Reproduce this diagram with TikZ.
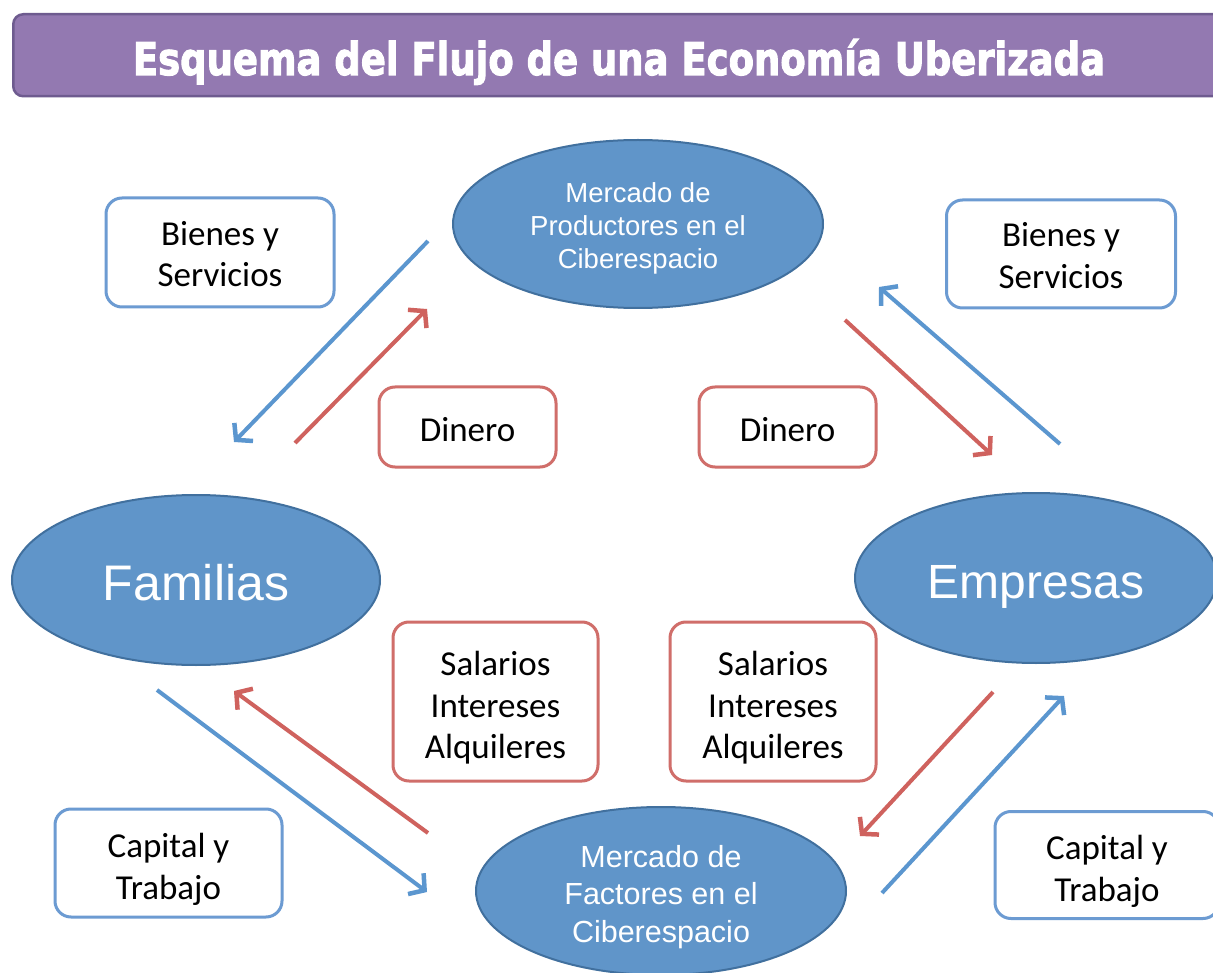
\documentclass[tikz,border=0pt]{standalone}
\usepackage{fontspec}
\setmainfont{Liberation Sans}
\newfontfamily\boxfont{Carlito}
\newfontfamily\titlefont{DejaVu Sans}[BoldFeatures={FakeBold=2.5}]
\usetikzlibrary{shapes.geometric,arrows.meta}
\definecolor{ellfill}{HTML}{6095C9}
\definecolor{elldraw}{HTML}{41709E}
\definecolor{arrblue}{HTML}{5B96CF}
\definecolor{arrred}{HTML}{CF625E}
\definecolor{boxblue}{HTML}{6C9BD2}
\definecolor{boxred}{HTML}{D06E6A}
\definecolor{titlefill}{HTML}{9379B1}
\definecolor{titledraw}{HTML}{6E5B8F}
\tikzset{
  ell/.style={ellipse, fill=ellfill, draw=elldraw, line width=2pt, inner sep=0pt, text=white, align=center, text depth=0pt},
  infobox/.style={rectangle, rounded corners=16pt, fill=white, line width=3pt, inner sep=0pt, align=center,
    text depth=0pt, font=\boxfont\fontsize{35}{41.5}\selectfont},
  bluebox/.style={infobox, draw=boxblue},
  redbox/.style={infobox, draw=boxred},
  flow/.style={line width=4pt, -{Straight Barb[length=11pt,width=26pt,line width=4.5pt]}},
  blueflow/.style={flow, draw=arrblue},
  redflow/.style={flow, draw=arrred},
}
\begin{document}
\begin{tikzpicture}[x=1pt,y=-1pt]
\useasboundingbox (0,0) rectangle (1213,973);
\clip (0,0) rectangle (1213,973);
\fill[white] (0,0) rectangle (1213,973);
% title
\node[draw=titledraw, fill=titlefill, line width=2.5pt, rounded corners=10pt, minimum width=1240pt, minimum height=82pt, inner sep=0pt, anchor=north west] (titlebar) at (12,13) {};
\node[anchor=base, text=white, inner sep=0pt] (title) at (619,75)
  {\resizebox{972pt}{36pt}{\titlefont\bfseries Esquema del Flujo de una Economía Uberizada}};
% ellipses
\node[ell, minimum width=370pt, minimum height=168pt, text height=89pt, font=\fontsize{27.5}{33}\selectfont] (prod) at (638,224)
  {Mercado de\\Productores en el\\Ciberespacio};
\node[ell, minimum width=368pt, minimum height=170pt, text height=40pt, font=\fontsize{50}{56}\selectfont] (fam) at (196,580) {Familias};
\node[ell, minimum width=362pt, minimum height=170pt, text height=40pt, font=\fontsize{48}{56}\selectfont] (emp) at (1036,578) {Empresas};
\node[ell, minimum width=370pt, minimum height=168pt, text height=102pt, font=\fontsize{30.5}{37.5}\selectfont] (fact) at (661,891)
  {Mercado de\\Factores en el\\Ciberespacio};
% boxes
\node[bluebox, minimum width=228pt, minimum height=109pt, text height=69pt] (bs1) at (220,252.5) {Bienes y\\Servicios};
\node[bluebox, minimum width=229pt, minimum height=108pt, text height=69pt] (bs2) at (1061,254) {Bienes y\\Servicios};
\node[redbox, minimum width=177pt, minimum height=80pt, text height=30pt] (din1) at (467.5,427) {Dinero};
\node[redbox, minimum width=177pt, minimum height=80pt, text height=30pt] (din2) at (787.5,427) {Dinero};
\node[redbox, minimum width=205pt, minimum height=159pt, text height=114pt] (sal1) at (495.5,701.5) {Salarios\\Intereses\\Alquileres};
\node[redbox, minimum width=206pt, minimum height=159pt, text height=114pt] (sal2) at (773,701.5) {Salarios\\Intereses\\Alquileres};
\node[bluebox, minimum width=227pt, minimum height=108pt, text height=72pt] (cap1) at (168.5,863) {Capital y\\Trabajo};
\node[bluebox, minimum width=224pt, minimum height=107pt, text height=72pt] (cap2) at (1107,865) {Capital y\\Trabajo};
% arrow end points
\coordinate (a1s) at (428,241); \coordinate (a1e) at (234,442);
\coordinate (a2s) at (295,443); \coordinate (a2e) at (427,309);
\coordinate (a3s) at (845,320); \coordinate (a3e) at (992,455);
\coordinate (a4s) at (1060,444); \coordinate (a4e) at (879,287);
\coordinate (a5s) at (428,833); \coordinate (a5e) at (234,691);
\coordinate (a6s) at (157,690); \coordinate (a6e) at (427,892);
\coordinate (a7s) at (993,692); \coordinate (a7e) at (860,836);
\coordinate (a8s) at (882,893); \coordinate (a8e) at (1064,696);
% arrows
\draw[blueflow] (a1s) -- (a1e);
\draw[redflow] (a2s) -- (a2e);
\draw[redflow] (a3s) -- (a3e);
\draw[blueflow] (a4s) -- (a4e);
\draw[redflow] (a5s) -- (a5e);
\draw[blueflow] (a6s) -- (a6e);
\draw[redflow] (a7s) -- (a7e);
\draw[blueflow] (a8s) -- (a8e);
\end{tikzpicture}
\end{document}
